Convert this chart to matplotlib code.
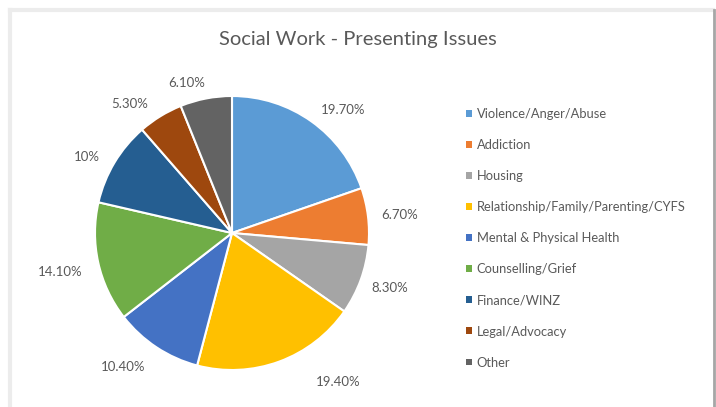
import matplotlib.pyplot as plt
from matplotlib.patches import Patch
from matplotlib.lines import Line2D

plt.rcParams['font.family'] = ['Lato', 'DejaVu Sans']

# Data
categories = ['Violence/Anger/Abuse', 'Addiction', 'Housing',
              'Relationship/Family/Parenting/CYFS', 'Mental & Physical Health',
              'Counselling/Grief', 'Finance/WINZ', 'Legal/Advocacy', 'Other']
values = [19.7, 6.7, 8.3, 19.4, 10.4, 14.1, 10.0, 5.3, 6.1]
value_labels = ['19.70%', '6.70%', '8.30%', '19.40%', '10.40%',
                '14.10%', '10%', '5.30%', '6.10%']

colors = ['#5B9BD5', '#ED7D31', '#A5A5A5', '#FFC000', '#4472C4',
          '#70AD47', '#255E91', '#9E480E', '#636363']

# label nudges (pixels, x right / y down) to mimic Excel's best-fit placement
nudges = [(1, 0), (0, 0), (-2, 4), (32, 8), (-4, 8),
          (-2, 7), (-3, 2), (-5, -1), (2, -2)]

fig = plt.figure(figsize=(7.16, 4.07), dpi=100)
W, H = 716, 407

# chart frame with light shadow
fig.add_artist(Line2D([10 / W, 10 / W], [0, (H - 10) / H], color='#ececec', lw=3))
fig.add_artist(Line2D([10 / W, 713 / W], [(H - 10) / H, (H - 10) / H], color='#ececec', lw=3))
fig.add_artist(Line2D([714 / W, 714 / W], [0, (H - 10) / H], color='#a6a6a6', lw=2))

cx, cy, r = 232, 233, 137
ax = fig.add_axes([(cx - r) / W, (H - cy - r) / H, 2 * r / W, 2 * r / H])
wedges, texts = ax.pie(values, colors=colors, startangle=90, counterclock=False,
                       labels=value_labels, labeldistance=1.1,
                       wedgeprops=dict(edgecolor='white', linewidth=1.5),
                       textprops=dict(color='#595959', fontsize=9.5))
for t, (dx, dy) in zip(texts, nudges):
    x, y = t.get_position()
    t.set_position((x + dx / r, y - dy / r))
ax.set_xlim(-1, 1)
ax.set_ylim(-1, 1)
ax.set_aspect('equal')

fig.text(0.5, (H - 40) / H, 'Social Work - Presenting Issues', ha='center', va='center',
         fontsize=14.5, color='#595959')

handles = [Patch(facecolor=c, edgecolor='none') for c in colors]
fig.legend(handles, categories, loc='upper left', bbox_to_anchor=(460 / W, (H - 102) / H),
           frameon=False, fontsize=9.25, labelcolor='#595959',
           handlelength=0.45, handleheight=0.45, handletextpad=0.35,
           labelspacing=1.48, borderpad=0)

fig.savefig('out.png', dpi=100)
